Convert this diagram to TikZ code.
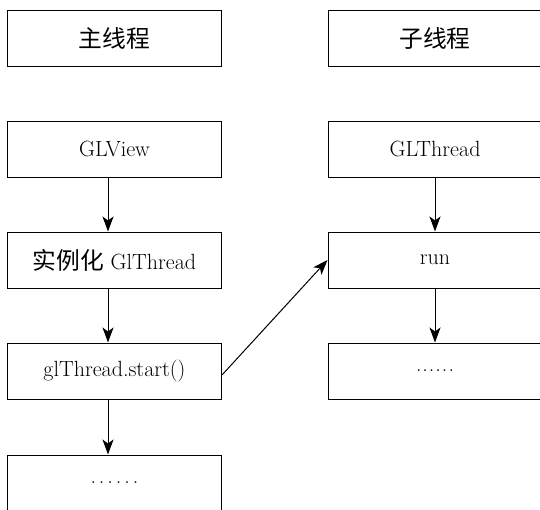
\documentclass[tikz,border=0pt]{standalone}
\usepackage{fontspec}
\newfontfamily\cjk{Noto Sans CJK SC}[Scale=1.08]
\usetikzlibrary{arrows.meta}
\newcommand\wideDots{.\kern3pt.\kern3pt.\kern3pt.\kern3pt.\kern3pt.}
\newcommand\narrowDots{.\kern1pt.\kern1pt.\kern1pt.\kern1pt.\kern1pt.}
\tikzset{
  box/.style={draw=black, line width=1pt, minimum width=214pt, minimum height=56pt,
    inner sep=0pt, font=\fontsize{22}{26}\selectfont},
  arr/.style={draw=black, line width=1pt, -{Stealth[length=15pt,width=11pt,inset=4pt]}}
}
\begin{document}
\begin{tikzpicture}[x=1pt,y=-1pt]
\useasboundingbox (0,0) rectangle (540,509);
\clip (0,0) rectangle (540,509);
% left column
\node[box] (m)  at (114.5,38)  {\cjk 主线程};
\node[box] (v)  at (114.5,149) {GLView};
\node[box] (i)  at (114.5,260) {{\cjk 实例化} GlThread};
\node[box] (g)  at (114.5,371) {glThread.start()};
\node[box] (e1) at (114.5,483) {\wideDots};
% right column
\node[box] (s)  at (435,38)  {\cjk 子线程};
\node[box] (t)  at (435,149) {GLThread};
\node[box] (r)  at (435,260) {run};
\node[box] (e2) at (435,371) {\narrowDots};
% arrows
\draw[arr] ([xshift=-6.5pt]v.south) -- ([xshift=-6.5pt]i.north);
\draw[arr] ([xshift=-6.5pt]i.south) -- ([xshift=-6.5pt]g.north);
\draw[arr] ([xshift=-6.5pt]g.south) -- ([xshift=-6.5pt]e1.north);
\draw[arr] (t.south) -- (r.north);
\draw[arr] (r.south) -- (e2.north);
\draw[arr] ([yshift=-4pt]g.east) -- (r.west);
\end{tikzpicture}
\end{document}
